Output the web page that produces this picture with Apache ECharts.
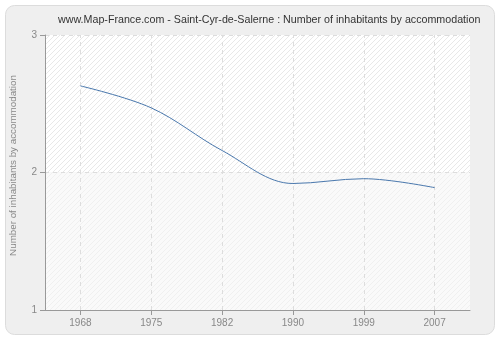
<!DOCTYPE html>
<html>
<head>
<meta charset="utf-8">
<script src="https://cdn.jsdelivr.net/npm/echarts@6/dist/echarts.min.js"></script>
<style>
  html, body { margin: 0; padding: 0; background: #ffffff; }
  #chart { width: 500px; height: 340px; }
</style>
</head>
<body>
<div id="chart"></div>
<script>
// Census years and average number of inhabitants per accommodation
const years = ['1968', '1975', '1982', '1990', '1999', '2007'];
const inhabitantsPerHome = [2.63, 2.47, 2.16, 1.92, 1.955, 1.89];
const yTicks = [1, 2, 3];

const titleText = 'www.Map-France.com - Saint-Cyr-de-Salerne : Number of inhabitants by accommodation';
const yAxisTitle = 'Number of inhabitants by accommodation';

const FONT = 'Liberation Sans';

// Diagonal hatch tile used to fill the plotting area
function hatch(bg, lineColor) {
  const s = 5;
  const c = document.createElement('canvas');
  c.width = s; c.height = s;
  const ctx = c.getContext('2d');
  ctx.fillStyle = bg;
  ctx.fillRect(0, 0, s, s);
  ctx.strokeStyle = lineColor;
  ctx.lineWidth = 1;
  ctx.beginPath();
  ctx.moveTo(-1, s + 1); ctx.lineTo(s + 1, -1);
  ctx.moveTo(-1, 1); ctx.lineTo(1, -1);
  ctx.moveTo(s - 1, s + 1); ctx.lineTo(s + 1, s - 1);
  ctx.stroke();
  return { image: c, repeat: 'repeat' };
}

const chart = echarts.init(document.getElementById('chart'), null, { renderer: 'canvas' });

chart.setOption({
  animation: false,
  textStyle: { fontFamily: FONT },
  graphic: [{
    type: 'rect',
    shape: { x: 5.5, y: 5.5, width: 489, height: 329, r: 9 },
    style: { fill: '#efefef', stroke: '#dcdcdc', lineWidth: 1 },
    z: -10
  }],
  title: {
    text: titleText,
    left: 53,
    top: 10,
    textStyle: { fontSize: 10.7, fontWeight: 'normal', color: '#333333', fontFamily: FONT }
  },
  grid: { left: 40, right: 30, top: 35, bottom: 30, containLabel: false },
  xAxis: {
    type: 'category',
    data: years,
    boundaryGap: true,
    axisLine: { show: true, lineStyle: { color: '#999999', width: 1 } },
    axisTick: { show: true, alignWithLabel: true, length: 5, lineStyle: { color: '#999999' } },
    axisLabel: { color: '#888888', fontSize: 10, margin: 8, fontFamily: FONT },
    splitLine: { show: false }
  },
  yAxis: {
    type: 'value',
    min: yTicks[0],
    max: yTicks[yTicks.length - 1],
    interval: 1,
    name: yAxisTitle,
    nameLocation: 'middle',
    nameGap: 27,
    nameTextStyle: { color: '#888888', fontSize: 9.8, fontFamily: FONT, padding: [0, 0, 0, 14] },
    axisLine: { show: true, lineStyle: { color: '#999999', width: 1 } },
    axisTick: { show: true, length: 5, lineStyle: { color: '#999999' } },
    axisLabel: { color: '#888888', fontSize: 10, margin: 8, fontFamily: FONT },
    splitLine: { show: true, lineStyle: { color: '#dddddd', type: [4, 4] } }
  },
  series: [{
    type: 'line',
    data: inhabitantsPerHome,
    smooth: 0.35,
    symbol: 'none',
    lineStyle: { color: '#4a78ad', width: 1 },
    z: 5,
    // vertical dashed guides through each census year
    markLine: {
      silent: true,
      symbol: 'none',
      z: 1,
      label: { show: false },
      lineStyle: { color: '#dddddd', type: [4, 4], width: 1 },
      data: years.map(y => ({ xAxis: y }))
    },
    markArea: {
      silent: true,
      z: -1,
      data: [
        [{ yAxis: 2, itemStyle: { color: hatch('#ffffff', '#e8e8e8') } }, { yAxis: 3 }],
        [{ yAxis: 1, itemStyle: { color: hatch('#fafafa', '#f0f0f0') } }, { yAxis: 2 }]
      ],
      itemStyle: { borderWidth: 0 }
    }
  }]
});
</script>
</body>
</html>
